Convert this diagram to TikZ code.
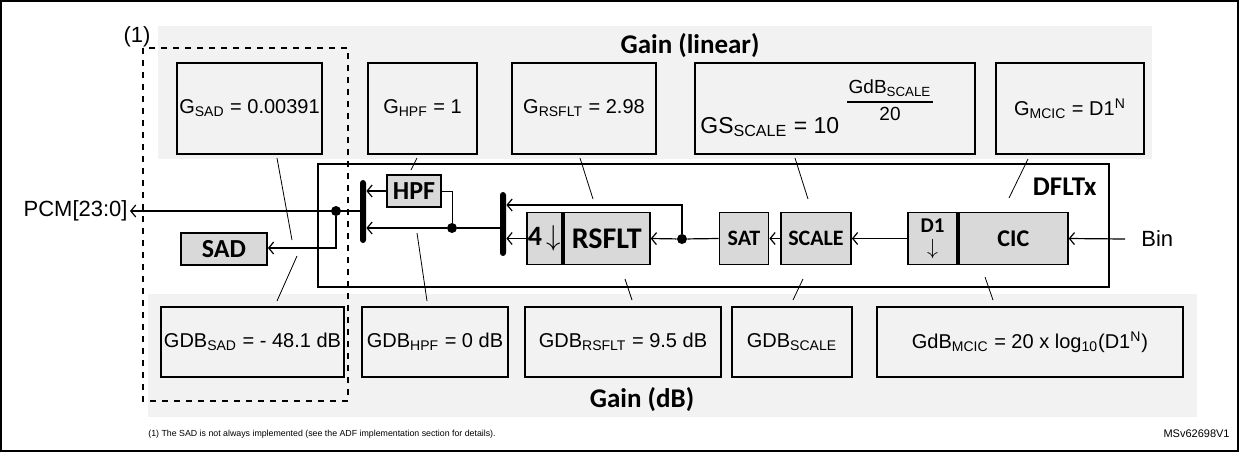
\documentclass[tikz,border=0pt]{standalone}
\usepackage{fontspec}
\setmainfont{Liberation Sans}
\newfontfamily\calib{Carlito}
\usetikzlibrary{arrows.meta, positioning}
\tikzstyle{band} = [fill=black!5, draw=none]
\tikzstyle{gain} = [draw, line width=1.3pt, rectangle, inner sep=0pt, font=\fontsize{10}{11}\selectfont]
\tikzstyle{block} = [draw, fill=black!15, line width=0.9pt, rectangle, inner sep=0pt, font=\calib\bfseries\fontsize{12}{13}\selectfont]
\tikzstyle{mux} = [fill=black, rectangle, rounded corners=1.5pt, minimum width=3pt, inner sep=0pt]
\tikzstyle{dot} = [fill=black, circle, minimum size=5pt, inner sep=0pt]
\tikzstyle{path} = [-{Straight Barb[length=2.5pt, width=6pt]}, line width=0.6pt]
\tikzstyle{lead} = [line width=0.4pt]
\tikzstyle{title} = [font=\calib\bfseries\fontsize{13.5}{14}\selectfont]

\begin{document}
\begin{tikzpicture}[x=0.5pt, y=-0.5pt]
    \useasboundingbox (0,0) rectangle (1239,452);
    \draw [line width=0.8pt] (1,451) -- (1,1) -- (1238,1) -- (1238,451) -- cycle;

    % Gain bands.
    \fill [band] (158,26) rectangle (1152,159);
    \fill [band] (148,294) rectangle (1197,417);
    \node (lin) [title] at (690,46) {Gain (linear)};
    \node (db) [title] at (642,400) {Gain (dB)};

    % Linear gain boxes.
    \node (gsad) [gain, minimum width=72.5pt, minimum height=45.5pt] at (249.5,108.5) {G\textsubscript{SAD} = 0.00391};
    \node (ghpf) [gain, minimum width=54.5pt, minimum height=45.5pt] at (422.5,108.5) {G\textsubscript{HPF} = 1};
    \node (grsflt) [gain, minimum width=72pt, minimum height=45.5pt] at (584,108.5) {G\textsubscript{RSFLT} = 2.98};
    \node (gscale) [gain, minimum width=140pt, minimum height=45.5pt] at (835,108.5) {};
    \node (gmcic) [gain, minimum width=74pt, minimum height=45.5pt] at (1070,108.5) {G\textsubscript{MCIC} = D1\textsuperscript{N}};
    \node (gsexp) [anchor=base west, inner sep=0pt, font=\fontsize{11.5}{12}\selectfont] at (700,133) {GS\textsubscript{SCALE} = 10};
    \node (gsnum) [anchor=base, inner sep=0pt, font=\fontsize{9.5}{10}\selectfont] at (890,93) {GdB\textsubscript{SCALE}};
    \node (gsden) [anchor=base, inner sep=0pt, font=\fontsize{9.5}{10}\selectfont] at (890,120) {20};
    \draw [line width=0.7pt] (847,102) -- (933,102);

    % dB gain boxes.
    \node (gdbsad) [gain, minimum width=91.5pt, minimum height=35pt] at (252.5,342) {GDB\textsubscript{SAD} = - 48.1 dB};
    \node (gdbhpf) [gain, minimum width=73pt, minimum height=35pt] at (435,342) {GDB\textsubscript{HPF} = 0 dB};
    \node (gdbrsflt) [gain, minimum width=98pt, minimum height=35pt] at (623,342) {GDB\textsubscript{RSFLT} = 9.5 dB};
    \node (gdbscale) [gain, minimum width=60pt, minimum height=35pt] at (792,342) {GDB\textsubscript{SCALE}};
    \node (gdbmcic) [gain, minimum width=153pt, minimum height=35pt] at (1030,342) {GdB\textsubscript{MCIC} = 20 x log\textsubscript{10}(D1\textsuperscript{N})};

    % DFLTx frame and blocks.
    \draw [line width=0.6pt] (318,164) rectangle (1109,287);
    \node (dfltx) [title, anchor=east, inner sep=0pt] at (1097,187) {DFLTx};
    \node (hpf) [block, minimum width=27pt, minimum height=16pt, font=\calib\bfseries\fontsize{13}{14}\selectfont] at (414,191) {HPF};
    \node (sad) [block, minimum width=43pt, minimum height=16pt, font=\calib\bfseries\fontsize{13}{14}\selectfont] at (224,249) {SAD};
    \node (four) [block, minimum width=17.5pt, minimum height=26pt, font=\calib\bfseries\fontsize{14}{15}\selectfont] at (544.5,238.5) {4\,$\downarrow$};
    \node (rsflt) [block, minimum width=43pt, minimum height=26pt, font=\calib\bfseries\fontsize{15}{16}\selectfont, right=0pt of four] {RSFLT};
    \node (sat) [block, minimum width=24.5pt, minimum height=26pt, font=\calib\bfseries\fontsize{11}{12}\selectfont] at (744,238.5) {SAT};
    \node (scale) [block, minimum width=35pt, minimum height=26pt, font=\calib\bfseries\fontsize{11}{12}\selectfont] at (816,238.5) {SCALE};
    \node (d1) [block, minimum width=24.5pt, minimum height=26pt, align=center, font=\calib\bfseries\fontsize{10.5}{10}\selectfont] at (932.5,238.5) {D1\\[1pt]$\downarrow$};
    \node (cic) [block, minimum width=54.5pt, minimum height=26pt, right=0pt of d1] {CIC};
    \node (mux1) [mux, minimum height=31.5pt] at (363,211.5) {};
    \node (mux2) [mux, minimum height=32pt] at (503,224) {};
    \node (dot1) [dot] at (336,211) {};
    \node (dot2) [dot] at (452,228) {};
    \node (dot3) [dot] at (682,239) {};
    \node (pcm) [anchor=east, font=\fontsize{11}{12}\selectfont, inner sep=1pt] at (130,211) {PCM[23:0]};
    \node (bin) [anchor=west, font=\fontsize{11}{12}\selectfont, inner sep=0pt] at (1141,239) {Bin};
    \coordinate (hpfr) at (452,191);
    \coordinate (binl) at (1125,239);

    % Arrows.
    \draw [path] (binl) -- (cic.east);
    \draw [path] (d1.west) -- (scale.east);
    \draw [path] (scale.west) -- (sat.east);
    \draw [path] (sat.west) -- (dot3) -- (rsflt.east);
    \draw [path] (dot3) |- (mux2.east |- 0,205);
    \draw [path] (four.west) -- (mux2.east |- four.west);
    \draw [path] (mux2.west |- dot2) -- (dot2) -- (mux1.east |- dot2);
    \draw [path] (hpf.west) -- (mux1.east |- hpf.west);
    \draw (hpf.east) -- (hpfr) -- (dot2);
    \draw [path] (mux1.west |- dot1) -- (pcm.east);
    \draw [path] (dot1) |- (sad.east |- 0,248);

    % Leaders.
    \draw [lead] (277,158) -- (292,240);
    \draw [lead] (297,256) -- (277,301);
    \draw [lead] (417,158) -- (411,170);
    \draw [lead] (417,233) -- (427,301);
    \draw [lead] (580,158) -- (593,199);
    \draw [lead] (625,279) -- (632,300);
    \draw [lead] (795,158) -- (808,199);
    \draw [lead] (803,279) -- (793,300);
    \draw [lead] (1028,159) -- (1009,198);
    \draw [lead] (985,277) -- (993,300);

    % Optional SAD area and notes.
    \draw [dashed, line width=0.6pt] (143,48) rectangle (348,401);
    \node (note1) [font=\fontsize{11}{12}\selectfont, inner sep=0pt] at (137,37) {(1)};
    \node (foot) [anchor=west, font=\fontsize{4.4}{5}\selectfont, inner sep=0pt] at (148,434) {(1) The SAD is not always implemented (see the ADF implementation section for details).};
    \node (ref) [anchor=east, font=\fontsize{5.5}{6}\selectfont, inner sep=0pt] at (1230,434) {MSv62698V1};
\end{tikzpicture}
\end{document}
